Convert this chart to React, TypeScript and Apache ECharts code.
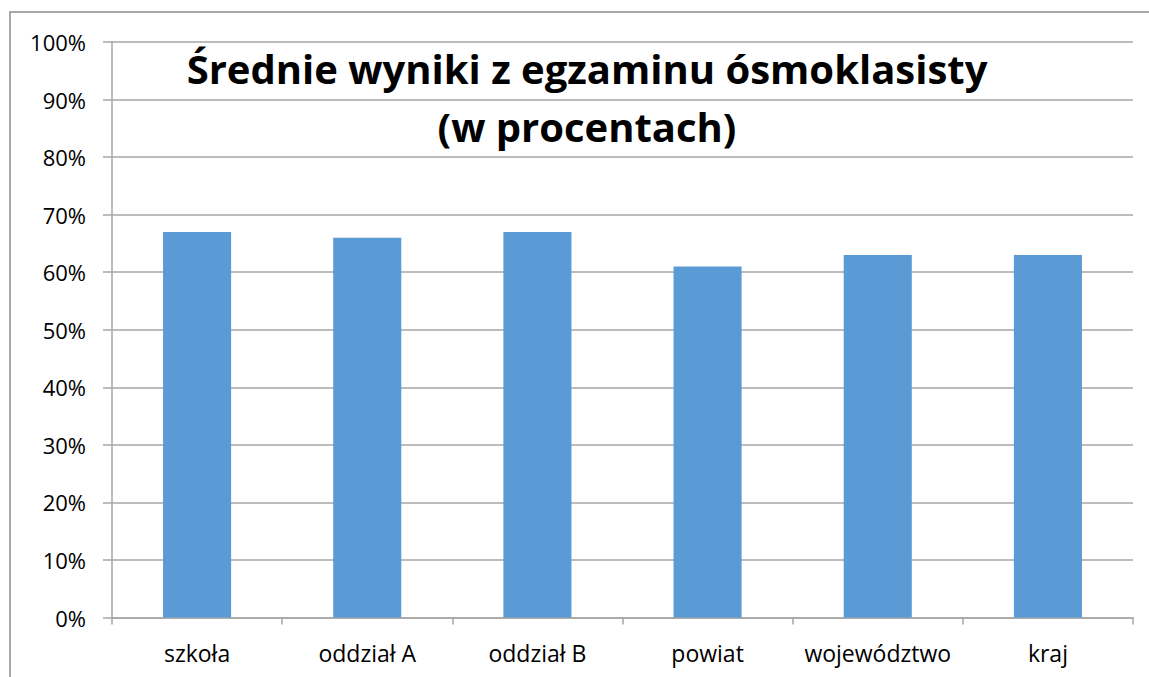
import React, { useEffect, useRef } from "react";
import * as echarts from "echarts";

const categories = ["szkoła", "oddział A", "oddział B", "powiat", "województwo", "kraj"];
const values = [0.67, 0.66, 0.67, 0.61, 0.63, 0.63];
const titleLines = ["Średnie wyniki z egzaminu ósmoklasisty", "(w procentach)"];

export default function App() {
  const ref = useRef<HTMLDivElement>(null);
  useEffect(() => {
    if (!ref.current) return;
    const chart = echarts.init(ref.current, null, { renderer: "svg" });
    const font = "'Open Sans', sans-serif";
    chart.setOption({
      animation: false,
      backgroundColor: "#ffffff",
      grid: { left: 112, top: 42, right: 16, bottom: 59.5, containLabel: false },
      xAxis: {
        type: "category",
        data: categories,
        axisLine: { show: true, lineStyle: { color: "#a6a6a6", width: 1.5 } },
        axisTick: { show: true, length: 7, lineStyle: { color: "#a6a6a6", width: 1.5 } },
        axisLabel: { color: "#000000", fontSize: 23, fontFamily: font, margin: 24, interval: 0 },
      },
      yAxis: {
        type: "value",
        min: 0,
        max: 1,
        interval: 0.1,
        axisLine: { show: true, lineStyle: { color: "#a6a6a6", width: 1.5 } },
        axisTick: { show: true, length: 9, lineStyle: { color: "#a6a6a6", width: 1.5 } },
        splitLine: { show: true, lineStyle: { color: "#a6a6a6", width: 1.5 } },
        axisLabel: {
          color: "#000000",
          fontSize: 22,
          fontFamily: font,
          margin: 26,
          formatter: (v: number) => Math.round(v * 100) + "%",
        },
      },
      series: [
        {
          type: "bar",
          data: values,
          barWidth: "40%",
          itemStyle: { color: "#5b9bd5" },
        },
      ],
      graphic: [
        {
          type: "rect",
          shape: { x: 10, y: 12, width: 1160, height: 700 },
          style: { fill: "none", stroke: "#8c8c8c", lineWidth: 1.5 },
          silent: true,
        },
        {
          type: "text",
          x: 587,
          y: 68,
          style: {
            text: titleLines[0],
            font: "bold 40px 'Open Sans', sans-serif",
            fill: "#000000",
            textAlign: "center",
            textVerticalAlign: "middle",
          },
          z: 10,
        },
        {
          type: "text",
          x: 587,
          y: 126,
          style: {
            text: titleLines[1],
            font: "bold 40px 'Open Sans', sans-serif",
            fill: "#000000",
            textAlign: "center",
            textVerticalAlign: "middle",
          },
          z: 10,
        },
      ],
    });
    return () => chart.dispose();
  }, []);
  return (
    <div
      ref={ref}
      style={{ position: "fixed", left: 0, top: 0, width: 1149, height: 677, background: "#fff" }}
    />
  );
}
